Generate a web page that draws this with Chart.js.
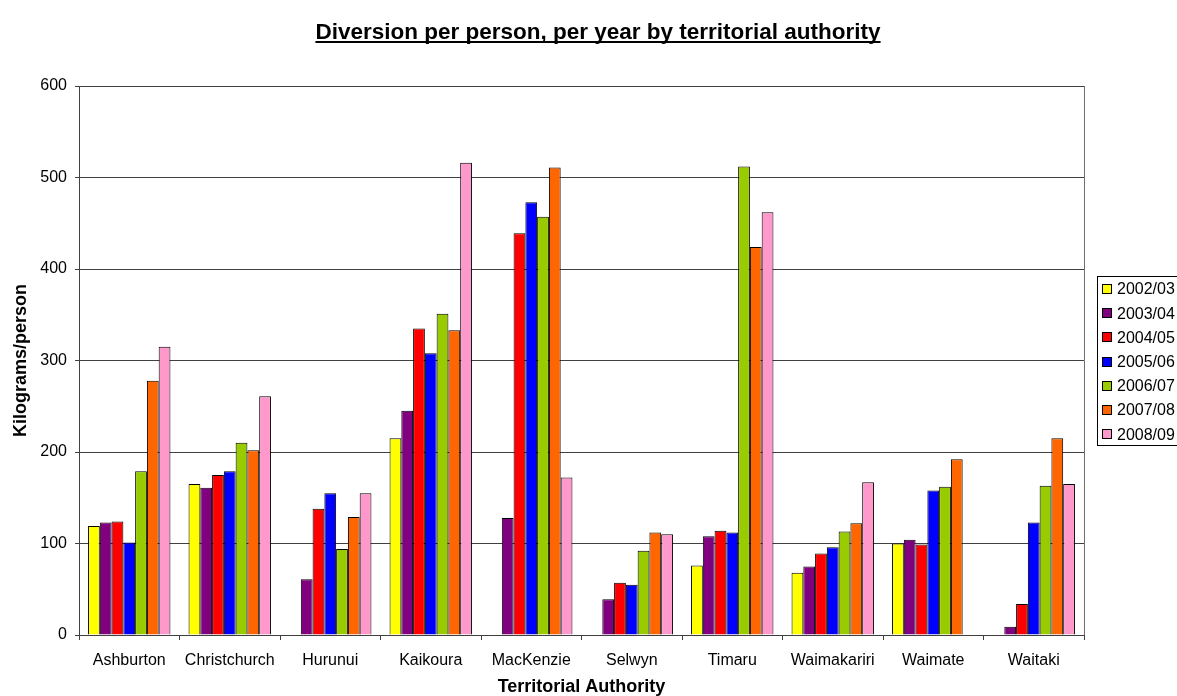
<!DOCTYPE html>
<html>
<head>
<meta charset="utf-8">
<title>Diversion per person, per year by territorial authority</title>
<script src="https://cdn.jsdelivr.net/npm/chart.js@4/dist/chart.umd.min.js"></script>
<style>
  html, body { margin: 0; padding: 0; background: #ffffff; }
  #wrap { position: relative; width: 1177px; height: 696px; }
  canvas { display: block; }
</style>
</head>
<body>
<div id="wrap"><canvas id="chart" width="1177" height="696"></canvas></div>
<script>
// Territorial authorities along the x axis
const authorities = ['Ashburton', 'Christchurch', 'Hurunui', 'Kaikoura', 'MacKenzie',
                     'Selwyn', 'Timaru', 'Waimakariri', 'Waimate', 'Waitaki'];

// Financial years (one series each)
const years = ['2002/03', '2003/04', '2004/05', '2005/06', '2006/07', '2007/08', '2008/09'];

// Kilograms diverted per person, per year (null = no figure reported)
const y2002_03 = [119, 165, null, 215, null, null, 76, 68, 100, null];
const y2003_04 = [123, 161, 61, 245, 128, 39, 108, 75, 104, 9];
const y2004_05 = [124, 175, 138, 335, 439, 57, 114, 89, 99, 34];
const y2005_06 = [101, 179, 155, 308, 473, 55, 112, 96, 158, 123];
const y2006_07 = [179, 210, 94, 351, 457, 92, 512, 113, 162, 163];
const y2007_08 = [278, 202, 129, 333, 511, 112, 424, 122, 192, 215];
const y2008_09 = [315, 261, 155, 516, 172, 110, 462, 167, null, 165];

// Value axis tick labels
const yTicks = [0, 100, 200, 300, 400, 500, 600];

const seriesValues = [y2002_03, y2003_04, y2004_05, y2005_06, y2006_07, y2007_08, y2008_09];
const seriesColours = ['#FFFF00', '#800080', '#FF0000', '#0000FF', '#99CC00', '#FF6600', '#FF99CC'];

const FONT = "'Liberation Sans', Arial, Helvetica, sans-serif";

// Underlined heading above the plot
const headingPlugin = {
  id: 'heading',
  afterDraw(chart) {
    const ctx = chart.ctx;
    const text = 'Diversion per person, per year by territorial authority';
    ctx.save();
    ctx.font = 'bold 22.5px ' + FONT;
    ctx.fillStyle = '#000';
    ctx.textAlign = 'center';
    ctx.textBaseline = 'alphabetic';
    const cx = 598, base = 39;
    ctx.fillText(text, cx, base);
    const w = ctx.measureText(text).width;
    ctx.fillRect(cx - w / 2, base + 2, w, 2);
    ctx.restore();
  }
};

// Right-hand frame edge of the plot area
const framePlugin = {
  id: 'frame',
  afterDraw(chart) {
    const a = chart.chartArea, ctx = chart.ctx;
    ctx.save();
    ctx.strokeStyle = '#6e6e6e';
    ctx.lineWidth = 1;
    ctx.beginPath();
    ctx.moveTo(Math.round(a.right) + 0.5, a.top);
    ctx.lineTo(Math.round(a.right) + 0.5, a.bottom);
    ctx.stroke();
    ctx.restore();
  }
};

// Boxed legend to the right of the plot, built from the datasets
const boxLegendPlugin = {
  id: 'boxLegend',
  afterDraw(chart) {
    const ctx = chart.ctx;
    const sets = chart.data.datasets;
    const left = 1097, top = 276, width = 95, rowH = 24.2, height = 169;
    ctx.save();
    ctx.fillStyle = '#fff';
    ctx.fillRect(left, top, width, height);
    ctx.strokeStyle = '#000';
    ctx.lineWidth = 1;
    ctx.strokeRect(left + 0.5, top + 0.5, width, height);
    ctx.font = '16px ' + FONT;
    ctx.textBaseline = 'middle';
    ctx.textAlign = 'left';
    sets.forEach((ds, i) => {
      const cy = top + 13 + i * rowH;
      ctx.fillStyle = ds.backgroundColor;
      ctx.fillRect(left + 5.5, Math.round(cy - 5) + 0.5, 9, 9);
      ctx.strokeStyle = '#000';
      ctx.strokeRect(left + 5.5, Math.round(cy - 5) + 0.5, 9, 9);
      ctx.fillStyle = '#000';
      ctx.fillText(ds.label, left + 20, cy + 1);
    });
    ctx.restore();
  }
};

const datasets = years.map((label, i) => ({
  label: label,
  data: seriesValues[i],
  backgroundColor: seriesColours[i],
  borderColor: '#000',
  borderWidth: 1,
  borderSkipped: 'bottom',
  categoryPercentage: 0.82,
  barPercentage: 1.0
}));

new Chart(document.getElementById('chart'), {
  type: 'bar',
  data: { labels: authorities, datasets: datasets },
  plugins: [headingPlugin, framePlugin, boxLegendPlugin],
  options: {
    responsive: false,
    animation: false,
    layout: { padding: { top: 86, right: 93, bottom: 0, left: 0 } },
    plugins: {
      legend: { display: false },
      title: { display: false },
      tooltip: { enabled: false }
    },
    scales: {
      x: {
        offset: true,
        afterFit(scale) { scale.height = 61; },
        grid: {
          offset: true,
          drawOnChartArea: false,
          drawTicks: true,
          tickLength: 5,
          color: '#404040'
        },
        border: { display: true, color: '#404040', width: 1 },
        ticks: {
          color: '#000',
          font: { family: FONT, size: 16 },
          padding: 11,
          maxRotation: 0,
          autoSkip: false
        },
        title: {
          display: true,
          text: 'Territorial Authority',
          color: '#000',
          font: { family: FONT, size: 18, weight: 'bold', lineHeight: 1.0 },
          padding: { top: 0, bottom: 0 }
        }
      },
      y: {
        min: yTicks[0],
        max: yTicks[yTicks.length - 1],
        afterFit(scale) { scale.width = 79; },
        afterBuildTicks(scale) { scale.ticks = yTicks.map(v => ({ value: v })); },
        grid: {
          drawTicks: true,
          tickLength: 4,
          color: '#404040'
        },
        border: { display: true, color: '#404040', width: 1 },
        ticks: {
          color: '#000',
          font: { family: FONT, size: 16 },
          padding: 8
        },
        title: {
          display: true,
          text: 'Kilograms/person',
          color: '#000',
          font: { family: FONT, size: 18, weight: 'bold', lineHeight: 1.0 },
          padding: { top: 12, bottom: 0 }
        }
      }
    }
  }
});
</script>
</body>
</html>
